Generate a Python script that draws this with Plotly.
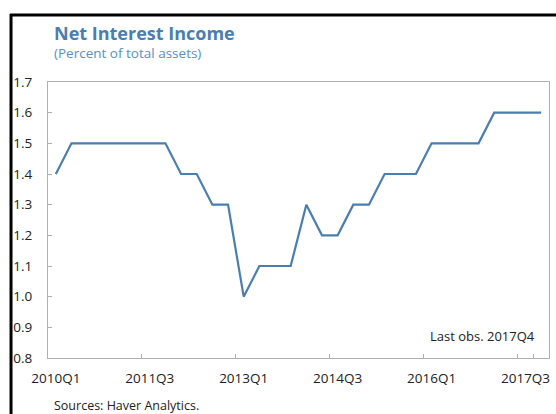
import plotly.graph_objects as go

quarters = [f"{y}Q{q}" for y in range(2010, 2018) for q in range(1, 5)]
values = [1.4, 1.5, 1.5, 1.5, 1.5, 1.5, 1.5, 1.5,
          1.4, 1.4, 1.3, 1.3, 1.0, 1.1, 1.1, 1.1,
          1.3, 1.2, 1.2, 1.3, 1.3, 1.4, 1.4, 1.4,
          1.5, 1.5, 1.5, 1.5, 1.6, 1.6, 1.6, 1.6]
tick_labels = ["2010Q1", "2011Q3", "2013Q1", "2014Q3", "2016Q1", "2017Q3"]
title = "Net Interest Income"
subtitle = "(Percent of total assets)"
note = "Last obs. 2017Q4"
source = "Sources: Haver Analytics."

W, H = 556, 414
L, R, T, B = 48, 6.7, 82, 56.3
pw, ph = W - L - R, H - T - B


def px(x):
    return (x - L) / pw


def py(y):
    return 1 - (y - T) / ph


FONT = "Open Sans"
BLUE = "#4a7eb0"

fig = go.Figure(go.Scatter(x=quarters, y=values, mode="lines",
                           line=dict(color=BLUE, width=2.2)))

fig.update_layout(
    width=W, height=H, margin=dict(l=L, r=R, t=T, b=B, autoexpand=False),
    paper_bgcolor="white", plot_bgcolor="white", showlegend=False,
    font=dict(family=FONT, size=13, color="#222"),
    xaxis=dict(type="category", tickmode="array", tickvals=tick_labels,
               ticktext=tick_labels, tickson="boundaries", ticks="inside",
               ticklen=4, tickcolor="#b0b0b0", showgrid=False, showline=True,
               linecolor="#b0b0b0", linewidth=1, mirror=True, automargin=False,
               range=[-0.5, 31.5], ticklabelstandoff=8, tickangle=0,
               tickfont=dict(size=13.5, color="#222")),
    yaxis=dict(range=[0.8, 1.7], dtick=0.1, tickformat=".1f", ticks="inside",
               ticklen=4, tickcolor="#b0b0b0", showgrid=False, showline=True,
               linecolor="#b0b0b0", linewidth=1, mirror=True, zeroline=False,
               automargin=False,
               ticklabelstandoff=12, tickfont=dict(size=13.5, color="#222")),
    shapes=[
        dict(type="line", xref="paper", yref="paper", x0=px(11), x1=px(11),
             y0=py(14), y1=py(420), line=dict(color="black", width=3)),
        dict(type="line", xref="paper", yref="paper", x0=px(10), x1=px(560),
             y0=py(15), y1=py(15), line=dict(color="black", width=3)),
    ],
    annotations=[
        dict(text=f"<b>{title}</b>", x=px(52), y=py(33), xref="paper", yref="paper",
             xanchor="left", yanchor="middle", showarrow=False,
             font=dict(family=FONT, size=18, color=BLUE)),
        dict(text=subtitle, x=px(52), y=py(53), xref="paper", yref="paper",
             xanchor="left", yanchor="middle", showarrow=False,
             font=dict(family=FONT, size=13.5, color="#5b8ec2")),
        dict(text=note, x=px(537), y=py(336), xref="paper", yref="paper",
             xanchor="right", yanchor="middle", showarrow=False,
             font=dict(family=FONT, size=13, color="#222")),
        dict(text=source, x=px(52), y=py(405), xref="paper", yref="paper",
             xanchor="left", yanchor="middle", showarrow=False,
             font=dict(family=FONT, size=12.5, color="#222")),
    ],
)

fig.write_html("out.html", config={"displayModeBar": False},
               post_script="document.body.style.margin='0';document.body.style.overflow='hidden';")
